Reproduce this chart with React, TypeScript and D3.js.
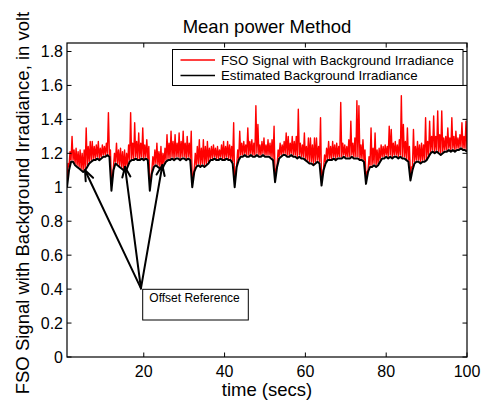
import React from 'react';
import * as d3 from 'd3';

// ---- data ----
const sampleStart = 1; // seconds
const backgroundStep = 0.5; // seconds between background samples
const signalStep = 0.25; // seconds between signal samples

const estimatedBackground = [
  1.00, 1.10, 1.15, 1.15, 1.13, 1.12, 1.11, 1.10, 1.09, 1.10,
  1.12, 1.14, 1.15, 1.16, 1.16, 1.17, 1.16, 1.17, 1.18, 1.18,
  1.19, 1.18, 0.98, 1.10, 1.14, 1.13, 1.12, 1.11, 1.10, 1.09,
  1.12, 1.15, 1.16, 1.16, 1.17, 1.16, 1.16, 1.17, 1.16, 1.17,
  1.16, 0.98, 1.08, 1.12, 1.13, 1.12, 1.11, 1.10, 1.13, 1.15,
  1.16, 1.16, 1.17, 1.16, 1.17, 1.17, 1.16, 1.17, 1.17, 1.16,
  1.17, 1.16, 1.00, 1.09, 1.12, 1.13, 1.12, 1.13, 1.12, 1.13,
  1.14, 1.16, 1.16, 1.17, 1.16, 1.16, 1.17, 1.16, 1.16, 1.17,
  1.16, 1.16, 1.14, 1.00, 1.12, 1.16, 1.18, 1.18, 1.19, 1.18,
  1.18, 1.19, 1.18, 1.18, 1.19, 1.18, 1.18, 1.19, 1.18, 1.18,
  1.18, 1.17, 1.16, 1.03, 1.12, 1.17, 1.18, 1.19, 1.19, 1.18,
  1.18, 1.19, 1.18, 1.18, 1.17, 1.18, 1.17, 1.17, 1.16, 1.15,
  1.14, 1.14, 1.13, 1.14, 1.15, 1.14, 1.01, 1.10, 1.14, 1.16,
  1.16, 1.16, 1.17, 1.16, 1.17, 1.17, 1.17, 1.18, 1.17, 1.17,
  1.17, 1.18, 1.17, 1.17, 1.17, 1.16, 1.16, 1.15, 1.02, 1.09,
  1.12, 1.12, 1.13, 1.12, 1.13, 1.15, 1.17, 1.17, 1.18, 1.17,
  1.18, 1.17, 1.18, 1.18, 1.17, 1.18, 1.17, 1.17, 1.16, 1.15,
  1.04, 1.10, 1.14, 1.15, 1.15, 1.14, 1.15, 1.15, 1.16, 1.18,
  1.20, 1.21, 1.20, 1.21, 1.20, 1.19, 1.20, 1.21, 1.21, 1.22,
  1.21, 1.22, 1.21, 1.22, 1.22, 1.23, 1.22, 1.22, 1.21,
];

const fsoSignal = [
  1.02, 1.14, 1.12, 1.21, 1.16, 1.30, 1.16, 1.22, 1.14, 1.23, 1.13, 1.21, 1.12, 1.22, 1.11, 1.20, 1.10, 1.22, 1.11, 1.35,
  1.13, 1.24, 1.15, 1.27, 1.16, 1.27, 1.17, 1.24, 1.17, 1.25, 1.18, 1.27, 1.17, 1.23, 1.18, 1.25, 1.19, 1.24, 1.19, 1.26,
  1.20, 1.44, 1.19, 1.22, 1.02, 1.06, 1.12, 1.20, 1.15, 1.26, 1.14, 1.22, 1.13, 1.23, 1.12, 1.21, 1.11, 1.22, 1.10, 1.20,
  1.13, 1.25, 1.16, 1.44, 1.17, 1.26, 1.17, 1.38, 1.18, 1.27, 1.17, 1.32, 1.17, 1.26, 1.18, 1.35, 1.17, 1.25, 1.18, 1.28,
  1.17, 1.24, 1.01, 1.05, 1.10, 1.18, 1.13, 1.22, 1.14, 1.26, 1.13, 1.21, 1.12, 1.24, 1.11, 1.20, 1.14, 1.23, 1.16, 1.31,
  1.17, 1.26, 1.17, 1.33, 1.18, 1.27, 1.17, 1.31, 1.18, 1.26, 1.18, 1.32, 1.17, 1.27, 1.18, 1.33, 1.18, 1.26, 1.17, 1.30,
  1.18, 1.26, 1.17, 1.33, 1.03, 1.07, 1.11, 1.20, 1.13, 1.24, 1.14, 1.28, 1.13, 1.23, 1.14, 1.28, 1.13, 1.24, 1.14, 1.27,
  1.15, 1.23, 1.17, 1.24, 1.17, 1.25, 1.18, 1.23, 1.17, 1.24, 1.17, 1.22, 1.18, 1.25, 1.17, 1.27, 1.17, 1.24, 1.18, 1.27,
  1.17, 1.25, 1.17, 1.24, 1.15, 1.38, 1.03, 1.08, 1.13, 1.22, 1.17, 1.33, 1.19, 1.26, 1.19, 1.27, 1.20, 1.25, 1.19, 1.35,
  1.19, 1.27, 1.20, 1.28, 1.19, 1.26, 1.19, 1.48, 1.20, 1.37, 1.19, 1.25, 1.19, 1.27, 1.20, 1.29, 1.19, 1.25, 1.19, 1.28,
  1.19, 1.26, 1.18, 1.28, 1.17, 1.36, 1.06, 1.10, 1.13, 1.22, 1.18, 1.26, 1.19, 1.25, 1.20, 1.27, 1.20, 1.32, 1.19, 1.30,
  1.19, 1.26, 1.20, 1.30, 1.19, 1.27, 1.19, 1.30, 1.18, 1.46, 1.19, 1.26, 1.18, 1.25, 1.18, 1.32, 1.17, 1.24, 1.16, 1.29,
  1.15, 1.29, 1.15, 1.25, 1.14, 1.29, 1.15, 1.29, 1.16, 1.24, 1.15, 1.41, 1.04, 1.08, 1.11, 1.19, 1.15, 1.23, 1.17, 1.27,
  1.17, 1.24, 1.17, 1.27, 1.18, 1.25, 1.17, 1.26, 1.18, 1.24, 1.18, 1.50, 1.18, 1.26, 1.19, 1.25, 1.18, 1.24, 1.18, 1.28,
  1.18, 1.39, 1.19, 1.26, 1.18, 1.29, 1.18, 1.51, 1.18, 1.48, 1.17, 1.25, 1.17, 1.28, 1.16, 1.22, 1.05, 1.09, 1.10, 1.18,
  1.13, 1.35, 1.13, 1.23, 1.14, 1.32, 1.13, 1.22, 1.14, 1.23, 1.16, 1.25, 1.18, 1.24, 1.18, 1.25, 1.19, 1.24, 1.18, 1.36,
  1.19, 1.34, 1.18, 1.26, 1.19, 1.27, 1.19, 1.25, 1.18, 1.28, 1.19, 1.54, 1.18, 1.37, 1.18, 1.27, 1.17, 1.35, 1.16, 1.24,
  1.07, 1.12, 1.12, 1.34, 1.15, 1.24, 1.16, 1.27, 1.16, 1.25, 1.15, 1.26, 1.16, 1.25, 1.16, 1.41, 1.17, 1.27, 1.19, 1.39,
  1.21, 1.30, 1.22, 1.42, 1.21, 1.30, 1.22, 1.45, 1.21, 1.31, 1.20, 1.45, 1.21, 1.29, 1.22, 1.30, 1.22, 1.35, 1.23, 1.29,
  1.22, 1.41, 1.23, 1.30, 1.22, 1.33, 1.23, 1.29, 1.23, 1.31, 1.24, 1.38, 1.23, 1.30, 1.23, 1.39, 1.22,
];

const xTicks = [20, 40, 60, 80, 100];
const yTicks = [0, 0.2, 0.4, 0.6, 0.8, 1, 1.2, 1.4, 1.6, 1.8];
const titleText = 'Mean power Method';
const xLabelText = 'time (secs)';
const yLabelText = 'FSO Signal with Background Irradiance, in volt';
const legendLabels = ['FSO Signal with Background Irradiance', 'Estimated Background Irradiance'];
const seriesColors = ['#ff0000', '#000000'];
const annotationText = 'Offset Reference';
const annotationTail: [number, number] = [19.3, 0.404];
const annotationTargets: [number, number][] = [
  [5.46, 1.10],
  [15.36, 1.12],
  [24.6, 1.13],
];

// ---- layout ----
const W = 482;
const H = 400;
const M = { left: 67, right: 467, top: 43, bottom: 357 };
const FONT = '"Liberation Sans", Arial, Helvetica, sans-serif';

export default function App() {
  const x = d3.scaleLinear().domain([1, 100]).range([M.left, M.right]);
  const y = d3.scaleLinear().domain([0, 1.85]).range([M.bottom, M.top]);

  const redPath =
    d3
      .line<number>()
      .x((_, i) => x(sampleStart + i * signalStep))
      .y((d) => y(d))(fsoSignal) || '';
  const blackPath =
    d3
      .line<number>()
      .x((_, i) => x(sampleStart + i * backgroundStep))
      .y((d) => y(d))(estimatedBackground) || '';

  const tail = [x(annotationTail[0]), y(annotationTail[1])];
  const arrows = annotationTargets.map(([tx, ty]) => {
    const hx = x(tx);
    const hy = y(ty);
    const ang = Math.atan2(hy - tail[1], hx - tail[0]);
    const L = 11;
    const a = 0.38;
    const p1 = [hx - L * Math.cos(ang - a), hy - L * Math.sin(ang - a)];
    const p2 = [hx - L * Math.cos(ang + a), hy - L * Math.sin(ang + a)];
    return { hx, hy, p1, p2 };
  });

  const tickLen = 4.5;
  const legX = 172.5;
  const legY = 49.5;
  const legW = 290.5;
  const legH = 36;

  return (
    <svg
      width={W}
      height={H}
      style={{ position: 'absolute', left: 0, top: 0, background: '#fff' }}
      fontFamily={FONT}
    >
      <defs>
        <clipPath id="plotClip">
          <rect x={M.left} y={M.top} width={M.right - M.left} height={M.bottom - M.top} />
        </clipPath>
      </defs>
      <rect x={0} y={0} width={W} height={H} fill="#fff" />

      <g clipPath="url(#plotClip)">
        <path d={redPath} fill="none" stroke={seriesColors[0]} strokeWidth={1.4} strokeLinejoin="round" />
        <path d={blackPath} fill="none" stroke={seriesColors[1]} strokeWidth={2} strokeLinejoin="round" />
      </g>

      {/* frame */}
      <rect
        x={M.left}
        y={M.top}
        width={M.right - M.left}
        height={M.bottom - M.top}
        fill="none"
        stroke="#000"
        strokeWidth={1.2}
      />

      {/* x ticks */}
      {xTicks.map((t) => (
        <g key={'xt' + t}>
          <line x1={x(t)} x2={x(t)} y1={M.bottom} y2={M.bottom - tickLen} stroke="#000" />
          <line x1={x(t)} x2={x(t)} y1={M.top} y2={M.top + tickLen} stroke="#000" />
          <text x={x(t)} y={377} fontSize={16} textAnchor="middle" fill="#000">
            {d3.format('~g')(t)}
          </text>
        </g>
      ))}

      {/* y ticks */}
      {yTicks.map((t) => (
        <g key={'yt' + t}>
          <line x1={M.left} x2={M.left + tickLen} y1={y(t)} y2={y(t)} stroke="#000" />
          <line x1={M.right} x2={M.right - tickLen} y1={y(t)} y2={y(t)} stroke="#000" />
          <text x={63} y={y(t)} dy="0.36em" fontSize={16} textAnchor="end" fill="#000">
            {d3.format('~g')(t)}
          </text>
        </g>
      ))}

      {/* title & axis labels */}
      <text x={(M.left + M.right) / 2} y={33.3} fontSize={18.5} textAnchor="middle" fill="#000">
        {titleText}
      </text>
      <text x={(M.left + M.right) / 2} y={395.5} fontSize={18.5} textAnchor="middle" fill="#000">
        {xLabelText}
      </text>
      <text
        transform={`translate(28.5, 203) rotate(-90)`}
        fontSize={18.5}
        textAnchor="middle"
        fill="#000"
      >
        {yLabelText}
      </text>

      {/* legend */}
      <rect x={legX} y={legY} width={legW} height={legH} fill="#fff" stroke="#000" strokeWidth={1} />
      {legendLabels.map((lab, i) => {
        const ly = legY + 10.5 + i * 15.5;
        return (
          <g key={lab}>
            <line x1={180.5} x2={215} y1={ly} y2={ly} stroke={seriesColors[i]} strokeWidth={1.5} />
            <text x={221} y={ly} dy="0.36em" fontSize={13.3} fill="#000">
              {lab}
            </text>
          </g>
        );
      })}

      {/* annotation arrows */}
      {arrows.map((a, i) => (
        <g key={'ar' + i} stroke="#000" strokeWidth={2} fill="none" strokeLinecap="round">
          <line x1={tail[0]} y1={tail[1]} x2={a.hx} y2={a.hy} />
          <line x1={a.hx} y1={a.hy} x2={a.p1[0]} y2={a.p1[1]} />
          <line x1={a.hx} y1={a.hy} x2={a.p2[0]} y2={a.p2[1]} />
        </g>
      ))}
      <rect x={142.7} y={289.3} width={105.6} height={30.7} fill="#fff" stroke="#000" strokeWidth={1} />
      <text x={149.3} y={302} fontSize={12} fill="#000">
        {annotationText}
      </text>
    </svg>
  );
}
